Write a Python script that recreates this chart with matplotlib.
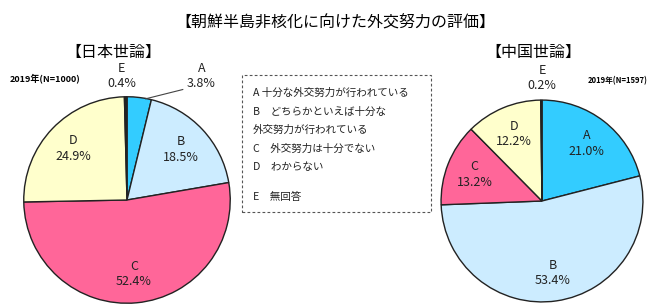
import matplotlib
matplotlib.use("Agg")
import matplotlib.pyplot as plt
from matplotlib.patches import Rectangle
import numpy as np

plt.rcParams['font.family'] = ['Noto Sans CJK JP', 'DejaVu Sans']

categories = ["A", "B", "C", "D", "E"]
japan_values = [3.8, 18.5, 52.4, 24.9, 0.4]
china_values = [21.0, 53.4, 13.2, 12.2, 0.2]
colors = ["#33CCFF", "#CCECFF", "#FF6699", "#FFFFCC", "#222222"]
legend_lines = ["A 十分な外交努力が行われている",
                "B　どちらかといえば十分な",
                "外交努力が行われている",
                "C　外交努力は十分でない",
                "D　わからない",
                "E　無回答"]
title = "【朝鮮半島非核化に向けた外交努力の評価】"
japan_title = "【日本世論】"
china_title = "【中国世論】"
japan_n = "2019年(N=1000)"
china_n = "2019年(N=1597)"

W, H = 670, 305
fig = plt.figure(figsize=(W / 100, H / 100), dpi=100)


def px_ax(cx, cy, r, lim=1.45):
    half = r * lim
    ax = fig.add_axes([(cx - half) / W, 1 - (cy + half) / H, 2 * half / W, 2 * half / H])
    ax.set_xlim(-lim, lim)
    ax.set_ylim(-lim, lim)
    ax.set_aspect('equal')
    ax.axis('off')
    return ax


def draw_pie(ax, values, outside):
    wedges, _ = ax.pie(values, colors=colors, startangle=90, counterclock=False,
                       radius=1.0,
                       wedgeprops=dict(edgecolor="#222222", linewidth=1.0))
    for cat, v, w in zip(categories, values, wedges):
        mid = np.deg2rad((w.theta1 + w.theta2) / 2)
        if cat in outside:
            x, y = outside[cat]
        else:
            x, y = 0.72 * np.cos(mid), 0.72 * np.sin(mid)
        ax.text(x, y, f"{cat}\n{v:.1f}%", ha='center', va='center', fontsize=9,
                linespacing=1.25, color="#222222")
    return wedges


axL = px_ax(127, 200, 89)
draw_pie(axL, japan_values, {"E": (-0.05, 1.20), "A": (0.72, 1.20)})
axL.plot([0.18, 0.54], [0.98, 1.07], color="#444444", lw=0.8)

axR = px_ax(542, 201, 87)
draw_pie(axR, china_values, {"E": (0.0, 1.22)})

fig.text(335 / W, 1 - 22 / H, title, ha='center', va='center', fontsize=11.5)
fig.text(113 / W, 1 - 52 / H, japan_title, ha='center', va='center', fontsize=11.5)
fig.text(533 / W, 1 - 52 / H, china_title, ha='center', va='center', fontsize=11.5)
fig.text(10 / W, 1 - 78 / H, japan_n, ha='left', va='center', fontsize=6.5, fontweight='bold')
fig.text(588 / W, 1 - 81 / H, china_n, ha='left', va='center', fontsize=5.5, fontweight='bold')

box = Rectangle((242 / W, 1 - 212 / H), (431 - 242) / W, (212 - 75) / H,
                transform=fig.transFigure, fill=False, edgecolor="#555555",
                linestyle=(0, (2.5, 2)), linewidth=0.8)
fig.add_artist(box)
ys = [93, 112, 130, 149, 167, 197]
for t, y in zip(legend_lines, ys):
    fig.text(253 / W, 1 - y / H, t, ha='left', va='center', fontsize=7.6, color="#222222")

fig.savefig("out.png", dpi=100)
